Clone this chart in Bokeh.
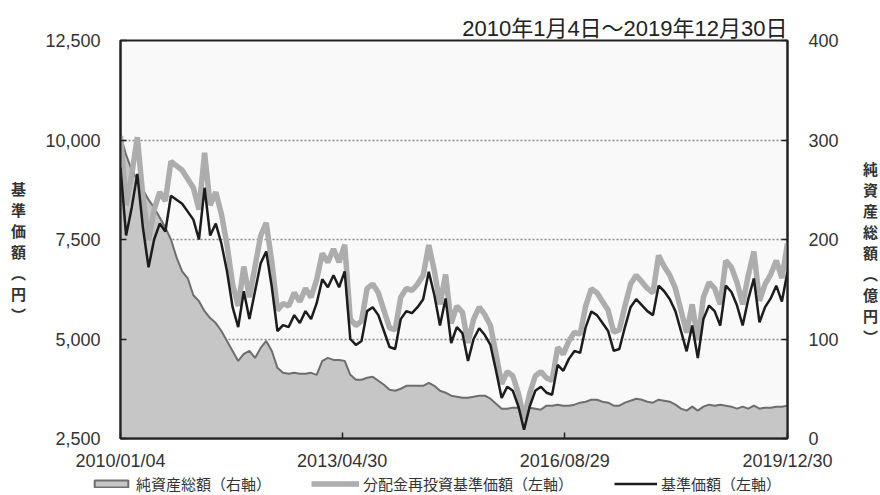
import pandas as pd
from bokeh.plotting import figure
from bokeh.layouts import column, row
from bokeh.models import (Range1d, LinearAxis, FixedTicker, NumeralTickFormatter,
                          DatetimeTickFormatter, Legend, LegendItem, ColumnDataSource, Label)
from bokeh.embed import file_html
from bokeh.resources import INLINE

# ---------------- data (monthly readings, 2010/01 - 2019/12) ----------------
start_date = "2010-01-04"
end_date = "2019-12-30"
dates = pd.date_range(start_date, end_date, periods=120)

nav = [9300, 7600, 8300, 9150, 7800, 6800, 7500, 7900, 7700, 8600,
       8500, 8400, 8200, 8000, 7500, 8800, 7600, 7900, 7400, 6700,
       5800, 5300, 6200, 5500, 6200, 6900, 7200, 6300, 5200, 5350,
       5300, 5600, 5400, 5700, 5500, 5900, 6500, 6300, 6600, 6300,
       6700, 5000, 4850, 4950, 5700, 5800, 5600, 5200, 4800, 4750,
       5500, 5700, 5650, 5800, 6000, 6690, 6100, 5340, 6020, 4900,
       5300, 5150, 4450, 5000, 5270, 5100, 4850, 4200, 3520, 3800,
       3700, 3300, 2720, 3300, 3700, 3800, 3650, 3600, 4350, 4200,
       4500, 4700, 4650, 5300, 5690, 5600, 5400, 5200, 4700, 4750,
       5300, 5800, 6000, 5850, 5700, 5600, 6340, 6200, 6000, 5700,
       5200, 4690, 5340, 4520, 5500, 5840, 5700, 5340, 6340, 6180,
       5840, 5340, 6000, 6520, 5420, 5800, 6020, 6340, 5940, 6690]

nav_reinvested = [10100, 8360, 9130, 10070, 8580, 7480, 8250, 8690, 8470, 9460,
                  9350, 9240, 9020, 8800, 8250, 9680, 8360, 8690, 8140, 7370,
                  6380, 5830, 6820, 6050, 6820, 7590, 7920, 6930, 5720, 5890,
                  5830, 6160, 5940, 6270, 6050, 6490, 7150, 6930, 7260, 6930,
                  7370, 5500, 5340, 5450, 6270, 6380, 6160, 5720, 5280, 5230,
                  6050, 6270, 6220, 6380, 6600, 7360, 6710, 5870, 6620, 5390,
                  5830, 5670, 4900, 5500, 5800, 5610, 5340, 4620, 3870, 4180,
                  4070, 3630, 3000, 3630, 4070, 4180, 4020, 3960, 4790, 4620,
                  4950, 5170, 5120, 5830, 6260, 6160, 5940, 5720, 5170, 5230,
                  5830, 6380, 6600, 6440, 6270, 6160, 7100, 6820, 6600, 6270,
                  5720, 5160, 5870, 4970, 6050, 6420, 6270, 5870, 6970, 6800,
                  6420, 5870, 6600, 7200, 5960, 6380, 6620, 6970, 6530, 7400]

net_assets = [305, 285, 270, 260, 250, 240, 232, 222, 212, 200,
              182, 168, 161, 144, 138, 128, 121, 116, 108, 98,
              88, 78, 85, 88, 81, 91, 98, 88, 71, 66,
              65, 66, 65, 65, 66, 64, 78, 81, 79, 79,
              78, 64, 59, 59, 61, 62, 58, 54, 49, 48,
              50, 53, 53, 53, 53, 56, 53, 48, 46, 43,
              42, 41, 41, 42, 43, 43, 40, 35, 30, 30,
              31, 31, 31, 31, 30, 29, 33, 33, 34, 33,
              33, 34, 36, 37, 39, 39, 37, 36, 33, 33,
              36, 38, 40, 39, 37, 36, 39, 38, 37, 34,
              30, 28, 32, 28, 32, 34, 33, 34, 33, 32,
              30, 32, 30, 33, 30, 31, 31, 32, 32, 33]

x_tick_dates = ["2010-01-04", "2013-04-30", "2016-08-29", "2019-12-30"]
left_ticks = [2500, 5000, 7500, 10000, 12500]
grid_ticks = [5000, 7500, 10000]
right_ticks = [0, 100, 200, 300, 400]

title_text = "2010年1月4日～2019年12月30日"
left_label = "基\n準\n価\n額\n︵\n円\n︶"
right_label = "純\n資\n産\n総\n額\n︵\n億\n円\n︶"
legend_labels = ["純資産総額（右軸）", "分配金再投資基準価額（左軸）", "基準価額（左軸）"]

AREA_STYLE = dict(fill_color="#c6c6c6", line_color="#6e6e6e", line_width=2)
REINV_STYLE = dict(line_color="#adadad", line_width=5.5)
NAV_STYLE = dict(line_color="#1c1c1c", line_width=2.5)

MAIN_H = 473
STRIP_W_L = 28
STRIP_W_R = 27
MAIN_W = 824
LEG_H = 21

# ---------------- main figure ----------------
p = figure(width=MAIN_W, height=MAIN_H, x_axis_type="datetime",
           x_range=Range1d(start=pd.Timestamp(start_date), end=pd.Timestamp(end_date)),
           y_range=Range1d(2500, 12500),
           output_backend="svg", toolbar_location=None,
           min_border_left=92, min_border_right=65, min_border_top=40, min_border_bottom=32,
           background_fill_color="#f9f9f9", border_fill_color="white")
p.extra_y_ranges = {"na": Range1d(0, 400)}

p.title.text = title_text
p.title.align = "right"
p.title.text_font = "Liberation Sans, Noto Sans CJK JP"
p.title.text_font_size = "22px"
p.title.text_font_style = "normal"
p.title.text_color = "#222222"
p.title.standoff = 0

p.outline_line_color = "#222222"
p.outline_line_width = 2

p.xgrid.visible = False
p.ygrid.ticker = FixedTicker(ticks=grid_ticks)
p.ygrid.grid_line_color = "#8a8a8a"
p.ygrid.grid_line_dash = "2 2"
p.ygrid.grid_line_width = 1.5

# area (net assets, right axis)
area_x = [dates[0]] + list(dates) + [dates[-1]]
area_y = [0] + net_assets + [0]
p.patch(area_x, area_y, y_range_name="na", **AREA_STYLE)

src = ColumnDataSource(dict(d=dates, nav=nav, reinv=nav_reinvested))
p.line("d", "reinv", source=src, **REINV_STYLE)
p.line("d", "nav", source=src, **NAV_STYLE)

right_axis = LinearAxis(y_range_name="na", ticker=FixedTicker(ticks=right_ticks))
p.add_layout(right_axis, "right")

p.yaxis[0].ticker = FixedTicker(ticks=left_ticks)
p.yaxis[0].formatter = NumeralTickFormatter(format="0,0")

p.xaxis.ticker = FixedTicker(ticks=[pd.Timestamp(t).value // 10**6 for t in x_tick_dates])
p.xaxis.formatter = DatetimeTickFormatter(days="%Y/%m/%d", months="%Y/%m/%d", years="%Y/%m/%d")

for ax in [p.xaxis[0], p.yaxis[0], right_axis]:
    ax.axis_line_color = "#222222"
    ax.axis_line_width = 2
    ax.major_tick_in = 6
    ax.major_tick_out = 0
    ax.major_tick_line_color = "#222222"
    ax.major_tick_line_width = 1.5
    ax.minor_tick_line_color = None
    ax.major_label_text_font = "Liberation Sans"
    ax.major_label_text_font_size = "18px"
    ax.major_label_text_color = "#333333"
p.xaxis[0].major_label_standoff = 12
p.yaxis[0].major_label_standoff = 20
right_axis.major_label_standoff = 21


# ---------------- side strips with the stacked axis titles ----------------
def text_strip(w, h, txt, x, y):
    f = figure(width=w, height=h, output_backend="svg", toolbar_location=None,
               x_axis_location=None, y_axis_location=None, min_border=0,
               outline_line_color=None, x_range=Range1d(0, 1), y_range=Range1d(0, 1))
    f.grid.visible = False
    f.add_layout(Label(x=x, y=y, x_units="screen", y_units="screen", text=txt,
                       text_align="center", text_baseline="top", text_line_height=1.0,
                       text_font="Noto Sans CJK JP", text_font_size="15px",
                       text_font_style="bold", text_color="#333333"))
    return f


left_strip = text_strip(STRIP_W_L, MAIN_H, left_label, 18, MAIN_H - 212)
right_strip = text_strip(STRIP_W_R, MAIN_H, right_label, 18, MAIN_H - 192)

# ---------------- legend strip ----------------
lg = figure(width=STRIP_W_L + MAIN_W + STRIP_W_R, height=LEG_H, output_backend="svg",
            toolbar_location=None, x_axis_location=None, y_axis_location=None, min_border=0,
            outline_line_color=None, x_range=Range1d(0, 1), y_range=Range1d(0, 1))
lg.grid.visible = False
# the same data, far outside this strip's ranges: only used for the legend swatches
r_area = lg.patch(area_x, area_y, **AREA_STYLE)
r_reinv = lg.line("d", "reinv", source=src, **REINV_STYLE)
r_nav = lg.line("d", "nav", source=src, **NAV_STYLE)

for r, lab, lx, gw in [(r_area, legend_labels[0], 90, 42),
                       (r_reinv, legend_labels[1], 311, 48),
                       (r_nav, legend_labels[2], 614, 43)]:
    leg = Legend(items=[LegendItem(label=lab, renderers=[r])], location=(lx, 0),
                 orientation="horizontal", glyph_width=gw, glyph_height=9,
                 label_standoff=4, padding=0, margin=0, spacing=0,
                 border_line_color=None, background_fill_alpha=0,
                 label_text_font="Noto Sans CJK JP", label_text_font_size="15px",
                 label_text_color="#333333", label_height=14)
    lg.add_layout(leg, "center")

layout = column(row(left_strip, p, right_strip), lg)

open("out.html", "w").write(file_html(layout, INLINE))
